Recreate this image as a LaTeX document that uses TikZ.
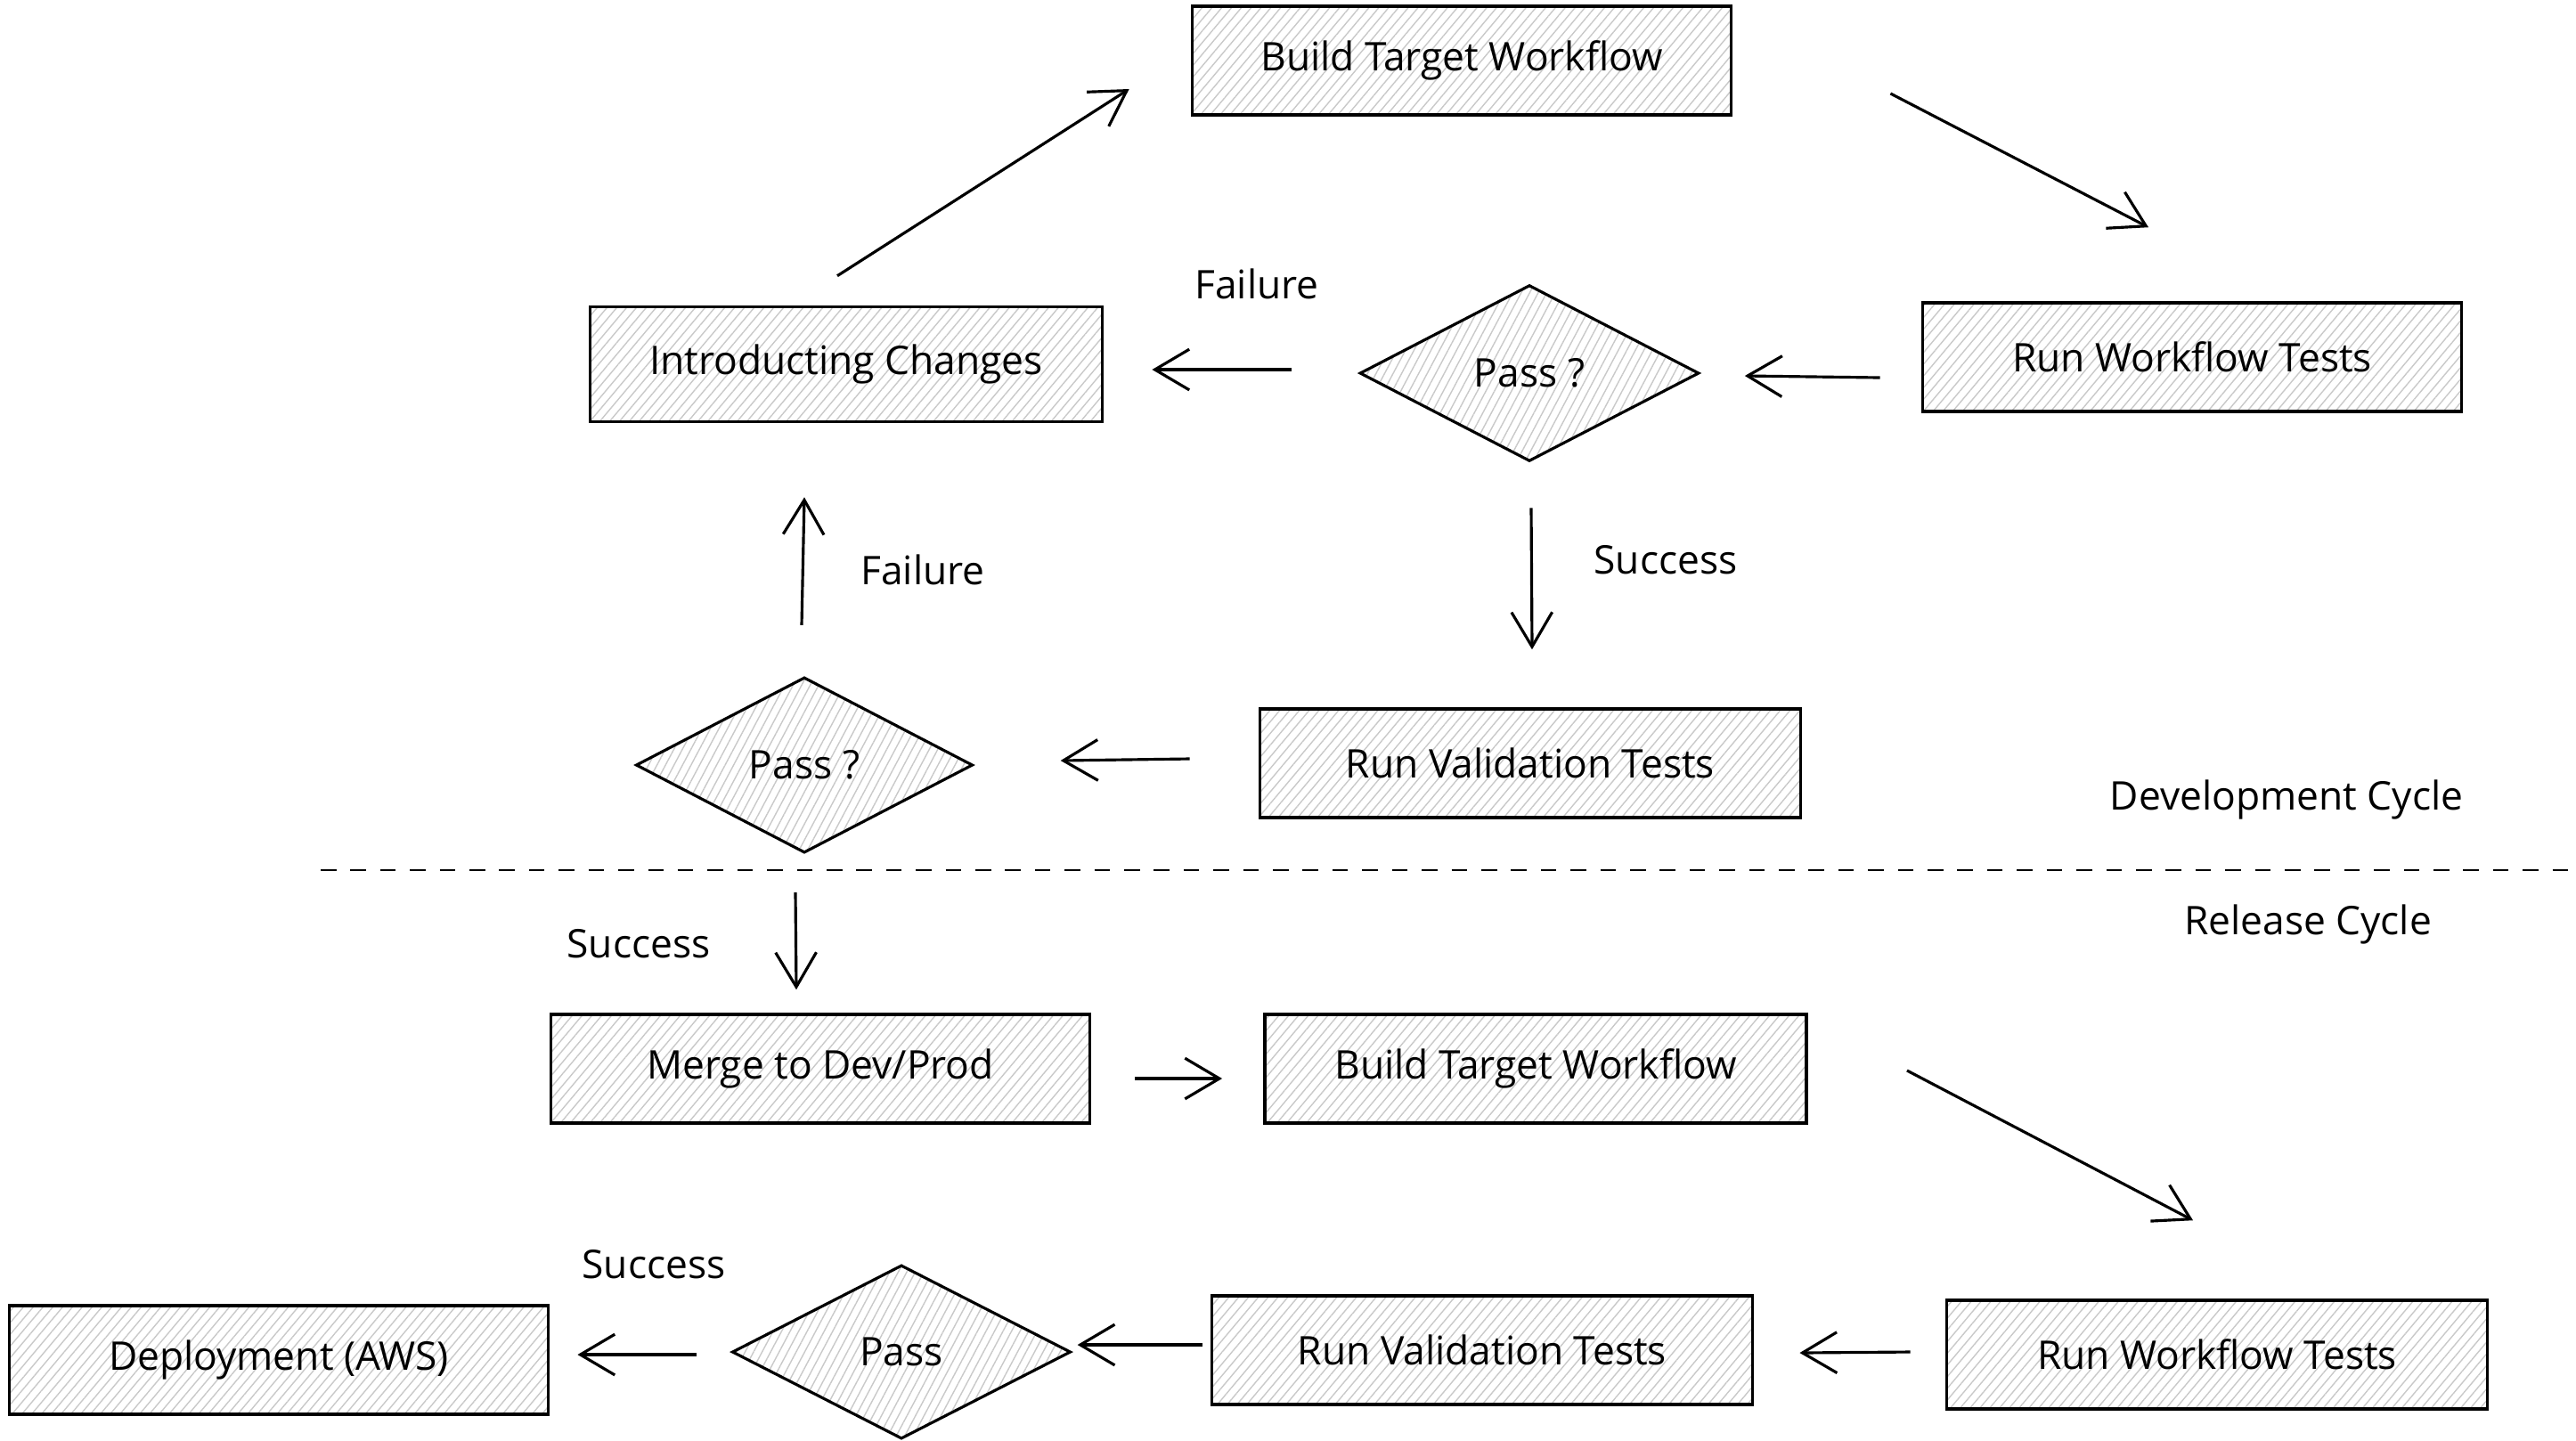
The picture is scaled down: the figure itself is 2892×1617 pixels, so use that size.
\documentclass[tikz,border=0pt]{standalone}
\usepackage{fontspec}
\setmainfont{Open Sans}
\usetikzlibrary{shapes.geometric,patterns.meta,arrows.meta,calc}

\begin{document}
\begin{tikzpicture}[x=0.01cm,y=-0.01cm,
	font=\fontsize{12.6}{14}\selectfont,
	box/.style={draw,line width=1pt,inner sep=0pt,minimum width=6.05cm,minimum height=1.22cm,
		pattern={Lines[angle=50,distance=2.4pt,line width=0.4pt]},pattern color=gray!42},
	check/.style={draw,diamond,line width=0.9pt,inner sep=0pt,minimum width=3.8cm,minimum height=1.97cm,
		pattern={Lines[angle=62,distance=2.4pt,line width=0.4pt]},pattern color=gray!42},
	arr/.style={line width=0.9pt,-{Straight Barb[length=11pt,width=13pt]}}]

		\useasboundingbox (0,0) rectangle (2892,1617);

		% development cycle
		\node[box] (buildA) at (1641,68) {Build Target Workflow};
		\node[box] (runwfA) at (2461,401) {Run Workflow Tests};
		\node[check] (passA) at (1717,419) {Pass ?};
		\node[box,minimum width=5.75cm,minimum height=1.29cm] (intro) at (950,409) {Introducting Changes};
		\node[box,minimum width=6.07cm] (runvalA) at (1718,857) {Run Validation Tests};
		\node[check,minimum width=3.78cm] (passB) at (903,859) {Pass ?};

		% release cycle
		\node[box] (merge) at (921,1200) {Merge to Dev/Prod};
		\node[box,minimum width=6.08cm] (buildB) at (1724,1200) {Build Target Workflow};
		\node[box,minimum width=6.07cm] (runwfB) at (2489,1521) {Run Workflow Tests};
		\node[box,minimum width=6.07cm] (runvalB) at (1664,1516) {Run Validation Tests};
		\node[check,minimum height=1.95cm] (passC) at (1012,1518) {Pass};
		\node[box] (deploy) at (313,1527) {Deployment (AWS)};

		\draw[arr] ($(intro.north)+(-10,-33)$) -- ($(buildA.west)+(-70,32)$);
		\draw[arr] ($(buildA.east)+(178,37)$) -- ($(runwfA.north)+(-49,-83)$);
		\draw[arr] ($(runwfA.west)+(-46,23)$) -- ($(passA.east)+(51,3)$);
		\draw[arr] ($(passA.west)+(-76,-4)$) -- ($(intro.east)+(54,6)$);
		\draw[arr] ($(passA.south)+(2,52)$) -- ($(runvalA.north)+(2,-65)$);
		\draw[arr] ($(runvalA.west)+(-77,-5)$) -- ($(passB.east)+(97,-5)$);
		\draw[arr] ($(passB.north)+(-3,-57)$) -- ($(intro.south)+(-47,83)$);
		\draw[arr] ($(passB.south)+(-10,43)$) -- ($(merge.north)+(-27,-26)$);
		\draw[arr] ($(merge.east)+(49,11)$) -- ($(buildB.west)+(-46,11)$);
		\draw[arr] ($(buildB.east)+(111,2)$) -- ($(runwfB.north)+(-27,-88)$);
		\draw[arr] ($(runwfB.west)+(-39,-3)$) -- ($(runvalB.east)+(51,3)$);
		\draw[arr] ($(runvalB.west)+(-9,-6)$) -- ($(passC.east)+(6,-8)$);
		\draw[arr] ($(passC.west)+(-38,3)$) -- ($(deploy.east)+(31,-6)$);

		\node (failA) at (1411,319) {Failure};
		\node (succA) at (1870,629) {Success};
		\node (failB) at (1036,640) {Failure};
		\node (succB) at (717,1060) {Success};
		\node (succC) at (734,1420) {Success};

		\draw[line width=0.7pt,dash pattern=on 5pt off 4.5pt] (360,977) -- (2892,977);
		\node (devcycle) at (2567,898) {Development Cycle};
		\node (relcycle) at (2591,1038) {Release Cycle};

	\end{tikzpicture}
\end{document}
